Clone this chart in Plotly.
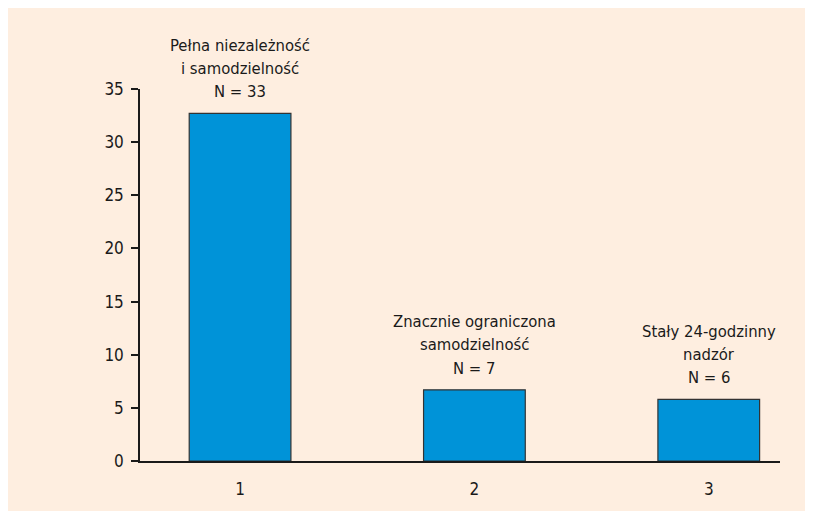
import plotly.graph_objects as go

categories = [1, 2, 3]
values = [32.7, 6.7, 5.8]
label_lines = [
    ["Pełna niezależność", "i samodzielność", "N = 33"],
    ["Znacznie ograniczona", "samodzielność", "N = 7"],
    ["Stały 24-godzinny", "nadzór", "N = 6"],
]
y_ticks = [0, 5, 10, 15, 20, 25, 30, 35]

FONT = "DejaVu Sans Condensed"
BG = "#feeee0"

fig = go.Figure()
fig.add_trace(go.Bar(
    x=categories, y=values, width=0.434,
    marker=dict(color="#0093d8", line=dict(color="#333333", width=1.2)),
    hoverinfo="skip",
))

annotations = []
for cat, val, lines in zip(categories, values, label_lines):
    n = len(lines)
    for k, line in enumerate(lines):
        annotations.append(dict(
            x=cat, y=val, xref="x", yref="y", text=line, showarrow=False,
            yanchor="middle", yshift=21.5 + 23.3 * (n - 1 - k),
            font=dict(family=FONT, size=16.5, color="#1a1a1a"),
        ))

fig.update_layout(
    autosize=False,
    width=805, height=503,
    margin=dict(l=132, r=33, t=81, b=46),
    paper_bgcolor=BG, plot_bgcolor=BG,
    showlegend=False,
    annotations=annotations,
    xaxis=dict(
        range=[0.573, 3.304], tickvals=categories, ticktext=[str(c) for c in categories],
        showgrid=False, zeroline=False, showline=True, linecolor="#1a1a1a", linewidth=1.5,
        ticks="", ticklabelstandoff=12,
        tickfont=dict(family=FONT, size=17, color="#1a1a1a"),
        fixedrange=True,
    ),
    yaxis=dict(
        range=[0, 35], tickvals=y_ticks, showgrid=False, zeroline=False,
        showline=True, linecolor="#1a1a1a", linewidth=1.5,
        ticks="outside", ticklen=7, tickwidth=1.5, tickcolor="#1a1a1a",
        ticklabelstandoff=4,
        tickfont=dict(family=FONT, size=17, color="#1a1a1a"),
        fixedrange=True,
    ),
)

fig.write_html("out.html")
